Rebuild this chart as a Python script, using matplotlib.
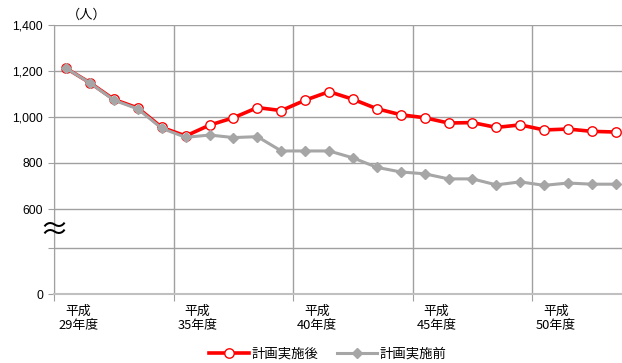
import matplotlib
matplotlib.use("Agg")
import matplotlib.pyplot as plt
import numpy as np

plt.rcParams['font.family'] = ['Noto Sans CJK JP', 'DejaVu Sans']

# 平成29年度〜平成52年度
years = [f"平成{n}年度" for n in range(29, 53)]
after = [1210, 1147, 1075, 1038, 954, 917, 964, 996, 1040, 1027, 1072, 1109,
         1076, 1035, 1009, 996, 973, 975, 954, 965, 943, 947, 937, 934]
before = [1210, 1146, 1072, 1034, 950, 911, 921, 910, 914, 852, 852, 852,
          822, 781, 761, 753, 731, 731, 705, 718, 703, 713, 708, 708]
ytick_vals = [0, 200, 600, 800, 1000, 1200, 1400]
ytick_text = ["0", "", "600", "800", "1,000", "1,200", "1,400"]
xlabel_text = ["平成\n29年度", "平成\n35年度", "平成\n40年度", "平成\n45年度", "平成\n50年度"]


# compress the 200-600 band so the break sits below 600
def fwd(v):
    v = np.asarray(v, dtype=float)
    return np.where(v <= 200, v, np.where(v < 600, 200 + (v - 200) * 0.42, v - 232))


def inv(t):
    t = np.asarray(t, dtype=float)
    return np.where(t <= 200, t, np.where(t < 368, 200 + (t - 200) / 0.42, t + 232))


x = np.arange(len(years))

fig = plt.figure(figsize=(6.22, 3.63), dpi=100)
ax = fig.add_axes([0.0873, 0.19, 0.9127, 0.7425])
ax.set_yscale('function', functions=(fwd, inv))

ax.plot(x, after, color='#ff0000', lw=2.6, marker='o', ms=6.8,
        mfc='white', mec='#ff0000', mew=1.0, label='計画実施後', zorder=3)
ax.plot(x, before, color='#a6a6a6', lw=2.2, marker='D', ms=5.0,
        mfc='#a6a6a6', mec='#a6a6a6', label='計画実施前', zorder=4)

ax.set_ylim(0, 1400)
ax.set_xlim(-0.5, 23.26)
ax.set_yticks(ytick_vals, ytick_text)
ax.yaxis.grid(True, color='#a0a0a0', lw=1.0)

grid_x = np.arange(-0.5, len(years), 5)
ax.set_xticks(grid_x, [""] * len(grid_x))
ax.set_xticks(grid_x + 1.0, xlabel_text, minor=True)
ax.xaxis.grid(True, which='major', color='#a0a0a0', lw=1.0)
ax.tick_params(axis='x', which='major', length=5, color='#a0a0a0', direction='out')
ax.tick_params(axis='x', which='minor', length=0, pad=8, labelsize=9.3)
ax.tick_params(axis='y', length=4, color='#a0a0a0', labelsize=8.8, pad=4)
for lab in ax.get_yticklabels():
    lab.set_fontfamily(['Liberation Sans'])
for lab in ax.get_xticklabels(minor=True):
    lab.set_linespacing(1.05)

for s in ('top', 'right'):
    ax.spines[s].set_visible(False)
ax.spines['left'].set_color('#a0a0a0')
ax.spines['bottom'].set_color('#c0c0c0')
ax.spines['bottom'].set_linewidth(1.5)

ax.text(0.022, 1.035, "（人）", transform=ax.transAxes, fontsize=9.5,
        ha='left', va='center')
ax.text(-0.5, 370, "≈", fontsize=21, ha='center', va='center', zorder=5,
        clip_on=False)

fig.legend(loc='center', bbox_to_anchor=(0.527, 0.027), ncol=2, frameon=False,
           fontsize=9.6, handlelength=3.0, columnspacing=1.4, handletextpad=0.2)

fig.savefig("out.png", dpi=100)
